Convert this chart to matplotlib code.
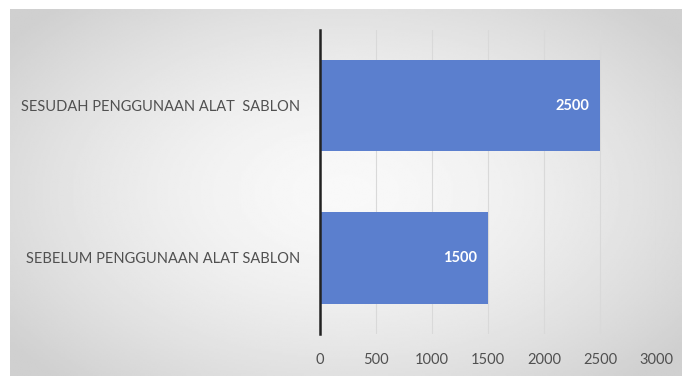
import numpy as np
import matplotlib.pyplot as plt

categories = ['SEBELUM PENGGUNAAN ALAT SABLON', 'SESUDAH PENGGUNAAN ALAT  SABLON']
values = [1500, 2500]
xticks = [0, 500, 1000, 1500, 2000, 2500, 3000]

W, H = 682, 376
fig = plt.figure(figsize=(W / 100, H / 100), dpi=100)
fig.patch.set_facecolor('white')

# radial gradient background
bg = fig.add_axes([10 / W, 0, (W - 10) / W, (H - 9) / H])
yy, xx = np.mgrid[-1:1:200j, -1:1:360j]
r = np.sqrt((xx * 1.0) ** 2 + (yy * 0.9) ** 2)
shade = 0.975 - 0.16 * np.clip(r / 1.25, 0, 1) ** 1.6
bg.imshow(shade, cmap='gray', vmin=0, vmax=1, aspect='auto',
          extent=[0, 1, 0, 1], interpolation='bilinear')
bg.axis('off')

ax = fig.add_axes([320 / W, (H - 334) / H, (656 - 320) / W, 304.5 / H])
ax.patch.set_alpha(0)
y = np.arange(len(categories))
bars = ax.barh(y, values, height=0.6, color='#5b7fce', zorder=3)
ax.set_xlim(0, 3000)
ax.set_ylim(-0.5, 1.5)
ax.set_xticks(xticks)
ax.set_xticklabels([str(t) for t in xticks])
ax.set_yticks(y)
ax.set_yticklabels(categories)
ax.grid(axis='x', color='#d9d9d9', linewidth=0.8, zorder=0)
for s in ['top', 'right', 'bottom']:
    ax.spines[s].set_visible(False)
ax.spines['left'].set_color('#222222')
ax.spines['left'].set_linewidth(1.8)
ax.spines['left'].set_zorder(4)
ax.tick_params(axis='both', length=0, labelsize=10.5, labelcolor='#505050')
ax.tick_params(axis='x', pad=14)
ax.tick_params(axis='y', pad=14)
for lab in ax.get_xticklabels() + ax.get_yticklabels():
    lab.set_fontfamily('Lato')

for b, v in zip(bars, values):
    ax.annotate(str(v), (v, b.get_y() + b.get_height() / 2),
                xytext=(-8, 0), textcoords='offset points',
                ha='right', va='center', color='white',
                fontsize=10.5, fontweight='bold', fontfamily='Lato', zorder=5)

fig.savefig('out.png', dpi=100)
